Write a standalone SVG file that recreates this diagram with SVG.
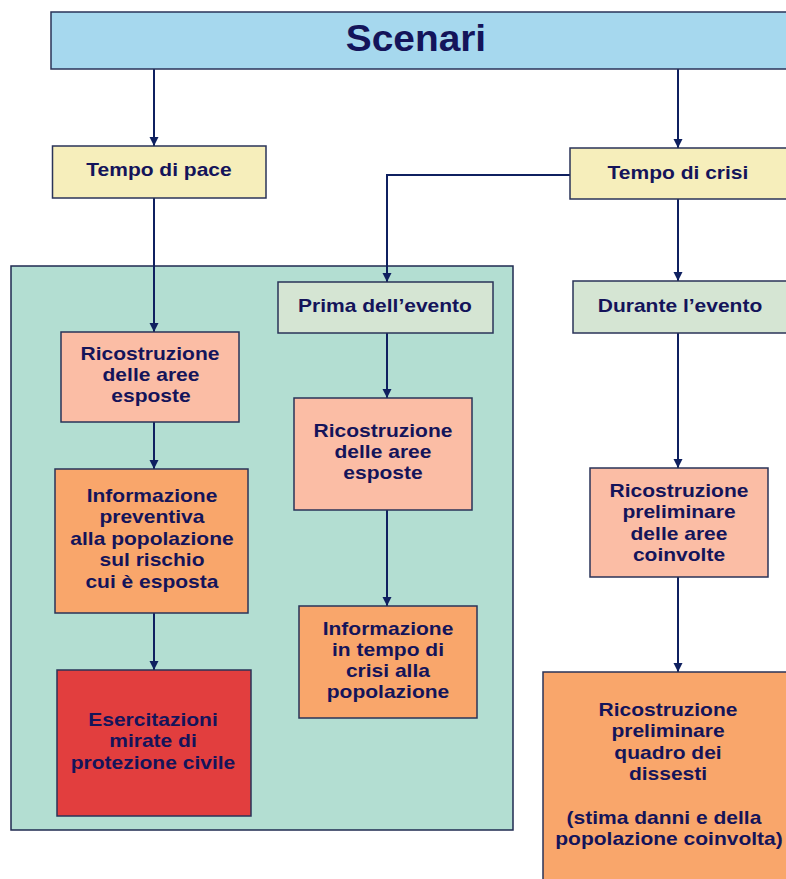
<svg xmlns="http://www.w3.org/2000/svg" width="786" height="879" viewBox="0 0 786 879">
<style>
  .box { stroke: #2a3358; stroke-width: 1.5; }
  .t { font-family: "Liberation Sans", Arial, sans-serif; font-weight: bold; fill: #14145a; text-anchor: middle; font-size: 18.6px; transform-box: fill-box; transform-origin: center; transform: scaleX(1.13); }
  .title { font-size: 37px; transform: scaleX(1.05); }
  .c { fill: none; stroke: #0f2060; stroke-width: 2; }
</style>
<defs>
  <marker id="ah" viewBox="0 0 10 10" refX="10" refY="5" markerWidth="9" markerHeight="10" markerUnits="userSpaceOnUse" orient="auto">
    <path d="M0,0 L10,5 L0,10 z" fill="#0f2060"/>
  </marker>
</defs>
<rect width="786" height="879" fill="#ffffff"/>
<g id="area">
  <rect x="11" y="266" width="502" height="564" fill="#b3ded2" stroke="#1f2a50" stroke-width="1.5"/>
</g>
<g id="connectors">
  <path class="c" d="M154,69 V146" marker-end="url(#ah)"/>
  <path class="c" d="M678,69 V148" marker-end="url(#ah)"/>
  <path class="c" d="M154,198 V332" marker-end="url(#ah)"/>
  <path class="c" d="M570,175 H387 V282" marker-end="url(#ah)"/>
  <path class="c" d="M678,199 V281" marker-end="url(#ah)"/>
  <path class="c" d="M154,422 V469" marker-end="url(#ah)"/>
  <path class="c" d="M154,613 V670" marker-end="url(#ah)"/>
  <path class="c" d="M387,333 V398" marker-end="url(#ah)"/>
  <path class="c" d="M387,510 V606" marker-end="url(#ah)"/>
  <path class="c" d="M678,333 V468" marker-end="url(#ah)"/>
  <path class="c" d="M678,577 V672" marker-end="url(#ah)"/>
</g>
<g id="scenari">
  <rect class="box" x="51" y="12" width="740" height="57" fill="#a6d8ee"/>
  <text class="t title" x="416" y="51">Scenari</text>
</g>
<g id="tempo-pace">
  <rect class="box" x="52.5" y="146" width="213.5" height="52" fill="#f6eebb"/>
  <text class="t" x="159" y="176">Tempo di pace</text>
</g>
<g id="tempo-crisi">
  <rect class="box" x="570" y="148" width="220" height="51" fill="#f6eebb"/>
  <text class="t" x="678" y="179">Tempo di crisi</text>
</g>
<g id="prima">
  <rect class="box" x="278" y="282" width="215" height="51" fill="#d5e5d3"/>
  <text class="t" x="385" y="312">Prima dell’evento</text>
</g>
<g id="durante">
  <rect class="box" x="573" y="281" width="220" height="52" fill="#d5e5d3"/>
  <text class="t" x="680" y="312">Durante l’evento</text>
</g>
<g id="ricostruzione-1">
  <rect class="box" x="61" y="332" width="178" height="90" fill="#fbbda5"/>
  <text class="t" x="150" y="360">Ricostruzione</text>
  <text class="t" x="151" y="381">delle aree</text>
  <text class="t" x="151" y="402">esposte</text>
</g>
<g id="informazione-preventiva">
  <rect class="box" x="55" y="469" width="193" height="144" fill="#f9a66b"/>
  <text class="t" x="152" y="502">Informazione</text>
  <text class="t" x="152" y="523.5">preventiva</text>
  <text class="t" x="152" y="545">alla popolazione</text>
  <text class="t" x="152" y="566.5">sul rischio</text>
  <text class="t" x="152" y="588">cui è esposta</text>
</g>
<g id="esercitazioni">
  <rect class="box" x="57" y="670" width="194" height="146" fill="#e23e3e"/>
  <text class="t" x="153" y="726">Esercitazioni</text>
  <text class="t" x="153" y="747.5">mirate di</text>
  <text class="t" x="153" y="769">protezione civile</text>
</g>
<g id="ricostruzione-2">
  <rect class="box" x="294" y="398" width="178" height="112" fill="#fbbda5"/>
  <text class="t" x="383" y="437">Ricostruzione</text>
  <text class="t" x="383" y="458">delle aree</text>
  <text class="t" x="383" y="479.5">esposte</text>
</g>
<g id="informazione-crisi">
  <rect class="box" x="299" y="606" width="178" height="112" fill="#f9a66b"/>
  <text class="t" x="388" y="635">Informazione</text>
  <text class="t" x="388" y="656">in tempo di</text>
  <text class="t" x="388" y="677.5">crisi alla</text>
  <text class="t" x="388" y="698.5">popolazione</text>
</g>
<g id="ricostruzione-preliminare">
  <rect class="box" x="590" y="468" width="178" height="109" fill="#fbbda5"/>
  <text class="t" x="679" y="497">Ricostruzione</text>
  <text class="t" x="679" y="518.5">preliminare</text>
  <text class="t" x="679" y="540">delle aree</text>
  <text class="t" x="679" y="561.5">coinvolte</text>
</g>
<g id="quadro-dissesti">
  <rect class="box" x="543" y="672" width="250" height="215" fill="#f9a66b"/>
  <text class="t" x="668" y="716">Ricostruzione</text>
  <text class="t" x="668" y="737.5">preliminare</text>
  <text class="t" x="668" y="759">quadro dei</text>
  <text class="t" x="668" y="780">dissesti</text>
  <text class="t" x="664" y="824">(stima danni e della</text>
  <text class="t" x="669" y="845">popolazione coinvolta)</text>
</g>
</svg>
